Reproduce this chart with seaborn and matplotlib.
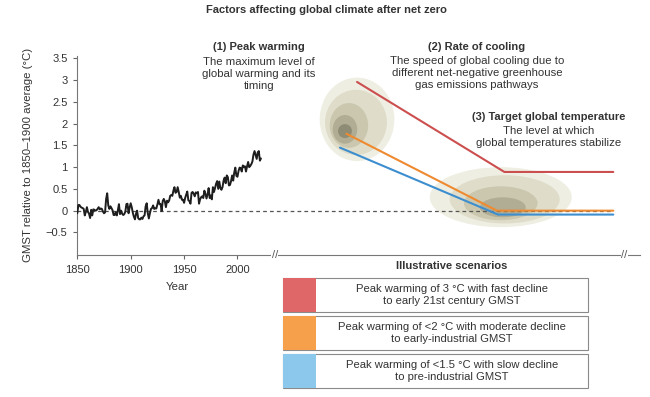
import numpy as np
import pandas as pd
import matplotlib
matplotlib.use("Agg")
import matplotlib.pyplot as plt
from matplotlib.patches import Ellipse, Rectangle
import seaborn as sns

# observed GMST, relative to 1850-1900 (deg C)
years = list(range(1850, 2023))
gmst = [
    -0.06, 0.13, 0.13, 0.09, 0.07, 0.06, 0.04, -0.11, -0.03, 0.08,
    -0.03, -0.07, -0.17, 0.02, -0.11, 0.03, 0.02, 0.00, 0.01, 0.04,
    0.08, 0.03, 0.05, 0.04, -0.02, -0.06, -0.04, 0.27, 0.40, 0.12,
    0.04, 0.10, 0.06, 0.01, -0.10, -0.10, -0.03, -0.11, 0.01, 0.15,
    -0.08, 0.00, -0.07, -0.10, -0.08, -0.02, 0.15, 0.16, -0.06, 0.07,
    0.17, 0.08, -0.05, -0.14, -0.20, -0.07, 0.00, -0.17, -0.20, -0.20,
    -0.16, -0.19, -0.13, -0.11, 0.10, 0.17, -0.06, -0.18, -0.06, 0.04,
    0.06, 0.12, 0.04, 0.05, 0.05, 0.14, 0.25, 0.15, 0.15, -0.01,
    0.22, 0.27, 0.21, 0.08, 0.23, 0.19, 0.23, 0.34, 0.36, 0.34,
    0.46, 0.54, 0.41, 0.43, 0.54, 0.43, 0.30, 0.34, 0.25, 0.25,
    0.18, 0.29, 0.37, 0.44, 0.24, 0.22, 0.16, 0.41, 0.43, 0.39,
    0.33, 0.42, 0.40, 0.43, 0.16, 0.26, 0.31, 0.33, 0.29, 0.46,
    0.39, 0.28, 0.37, 0.52, 0.29, 0.35, 0.26, 0.54, 0.43, 0.52,
    0.62, 0.68, 0.50, 0.67, 0.52, 0.48, 0.54, 0.69, 0.76, 0.63,
    0.81, 0.77, 0.58, 0.59, 0.68, 0.81, 0.69, 0.88, 0.99, 0.80,
    0.78, 0.91, 0.99, 0.98, 0.90, 1.04, 1.00, 1.02, 0.90, 1.02,
    1.12, 1.00, 1.03, 1.07, 1.13, 1.29, 1.37, 1.28, 1.19, 1.34,
    1.37, 1.15, 1.20,
]

# illustrative scenarios (x in "year-like" units after the axis break)
scen_names = ["3C", "2C", "1.5C"]
scen_x = [[2112, 2250, 2352], [2102, 2243, 2352], [2096, 2244, 2352]]
scen_y = [[2.96, 0.89, 0.89], [1.77, 0.0, 0.0], [1.45, -0.09, -0.09]]
line_colors = ["#cc4f4f", "#ee8a30", "#3d8ecf"]
patch_colors = ["#e06767", "#f6a04c", "#8cc8ec"]
legend_text = [
    ["Peak warming of 3 \u00b0C with fast decline", "to early 21st century GMST"],
    ["Peak warming of <2 \u00b0C with moderate decline", "to early-industrial GMST"],
    ["Peak warming of <1.5 \u00b0C with slow decline", "to pre-industrial GMST"],
]

# annotation headings and notes
notes = [
    ("(1) Peak warming", ["The maximum level of", "global warming and its", "timing"]),
    ("(2) Rate of cooling", ["The speed of global cooling due to",
                             "different net-negative greenhouse",
                             "gas emissions pathways"]),
    ("(3) Target global temperature", ["The level at which",
                                       "global temperatures stabilize"]),
]

# shaded uncertainty blobs: peak and target
peak_cx = [2112, 2111, 2104.4, 2100.7, 2100.7]
peak_cy = [2.10, 2.03, 1.96, 1.87, 1.83]
peak_w = [70, 58, 36, 23, 13]
peak_h = [1.92, 1.5, 1.03, 0.66, 0.32]
targ_cx = [2246.6, 2250.3, 2246.6, 2248.5]
targ_cy = [0.31, 0.26, 0.17, 0.076]
targ_w = [133, 103, 69, 43]
targ_h = [1.38, 1.11, 0.78, 0.46]
blob_colors = ["#efeee3", "#dfddc9", "#cac7ae", "#b0ad94", "#8f8c75"]

sns.set_style("ticks")
plt.rcParams["font.family"] = ["Liberation Sans", "DejaVu Sans"]
txt = "#333333"

fig = plt.figure(figsize=(6.5, 3.97), dpi=100)
W, H = 650, 397


def fx(px):
    return px / W


def fy(py):
    return 1 - py / H


ax = fig.add_axes([fx(77.3), fy(255), (640 - 77.3) / W, (255 - 55) / H])
ax.set_xlim(1850, 2377)
ax.set_ylim(-1.02, 3.58)

for i in range(len(peak_cx)):
    ax.add_patch(Ellipse((peak_cx[i], peak_cy[i]), peak_w[i], peak_h[i],
                         color=blob_colors[i], lw=0, zorder=1))
for i in range(len(targ_cx)):
    ax.add_patch(Ellipse((targ_cx[i], targ_cy[i]), targ_w[i], targ_h[i],
                         color=blob_colors[i], lw=0, zorder=1))

ax.plot([1850, 2352], [0, 0], ls=(0, (3, 2.5)), color="#555555", lw=0.9, zorder=2)

hist = pd.DataFrame({"year": years, "gmst": gmst})
sns.lineplot(data=hist, x="year", y="gmst", ax=ax, color="#1e1e1e", lw=1.4, zorder=4)

for i in range(3):
    ax.plot(scen_x[i], scen_y[i], color=line_colors[i], lw=1.5, zorder=3 + (i == 1))

ax.set_xticks([1850, 1900, 1950, 2000])
ax.set_yticks([-0.5, 0, 0.5, 1, 1.5, 2, 2.5, 3, 3.5])
ax.set_yticklabels(["\u22120.5", "0", "0.5", "1", "1.5", "2", "2.5", "3", "3.5"])
ax.tick_params(labelsize=8, colors="#666666", labelcolor=txt, length=3, width=0.8, pad=4)
ax.set_xlabel("")
ax.set_ylabel("GMST relative to 1850\u20131900 average (\u00b0C)", fontsize=8.2, color=txt, labelpad=9)
sns.despine(ax=ax)
ax.spines["left"].set_bounds(-1.02, 3.56)
for s in ["left", "bottom"]:
    ax.spines[s].set_color("#777777")
    ax.spines[s].set_linewidth(0.8)

# axis breaks
for bx in [2035, 2362.6]:
    ax.text(bx, -1.02, "//", ha="center", va="center", fontsize=8, color="#555555",
            bbox=dict(fc="white", ec="none", pad=0.3), clip_on=False, zorder=6)

fig.text(fx(177), fy(287), "Year", ha="center", va="center", fontsize=8.2, color=txt)
fig.text(fx(326), fy(10), "Factors affecting global climate after net zero",
         ha="center", va="center", fontsize=8, fontweight="bold", color=txt)

# heading x centre, heading y, first note line y (pixels)
note_pos = [(259, 47, 62), (477, 47, 61), (549, 117, 131)]
for (head, lines), (nx, hy, ly) in zip(notes, note_pos):
    fig.text(fx(nx), fy(hy), head, ha="center", va="center",
             fontsize=8, fontweight="bold", color=txt)
    for k, line in enumerate(lines):
        fig.text(fx(nx), fy(ly + k * 11.8), line, ha="center", va="center",
                 fontsize=8.2, color=txt)

fig.text(fx(452), fy(266), "Illustrative scenarios", ha="center", va="center",
         fontsize=8, fontweight="bold", color=txt)

# legend boxes
lax = fig.add_axes([fx(283), fy(389), (588 - 283) / W, (389 - 278) / H])
lax.set_xlim(0, 305)
lax.set_ylim(111, 0)
lax.axis("off")
for i in range(3):
    top = i * 38
    lax.add_patch(Rectangle((0, top), 305, 34, fc="white", ec="#8a8a8a", lw=0.8, clip_on=False))
    lax.add_patch(Rectangle((0, top), 33, 34, fc=patch_colors[i], ec="none", clip_on=False))
    for k, line in enumerate(legend_text[i]):
        lax.text(169, top + 10.5 + k * 13, line, ha="center", va="center",
                 fontsize=8.1, color=txt)

fig.savefig("out.png", dpi=100)
